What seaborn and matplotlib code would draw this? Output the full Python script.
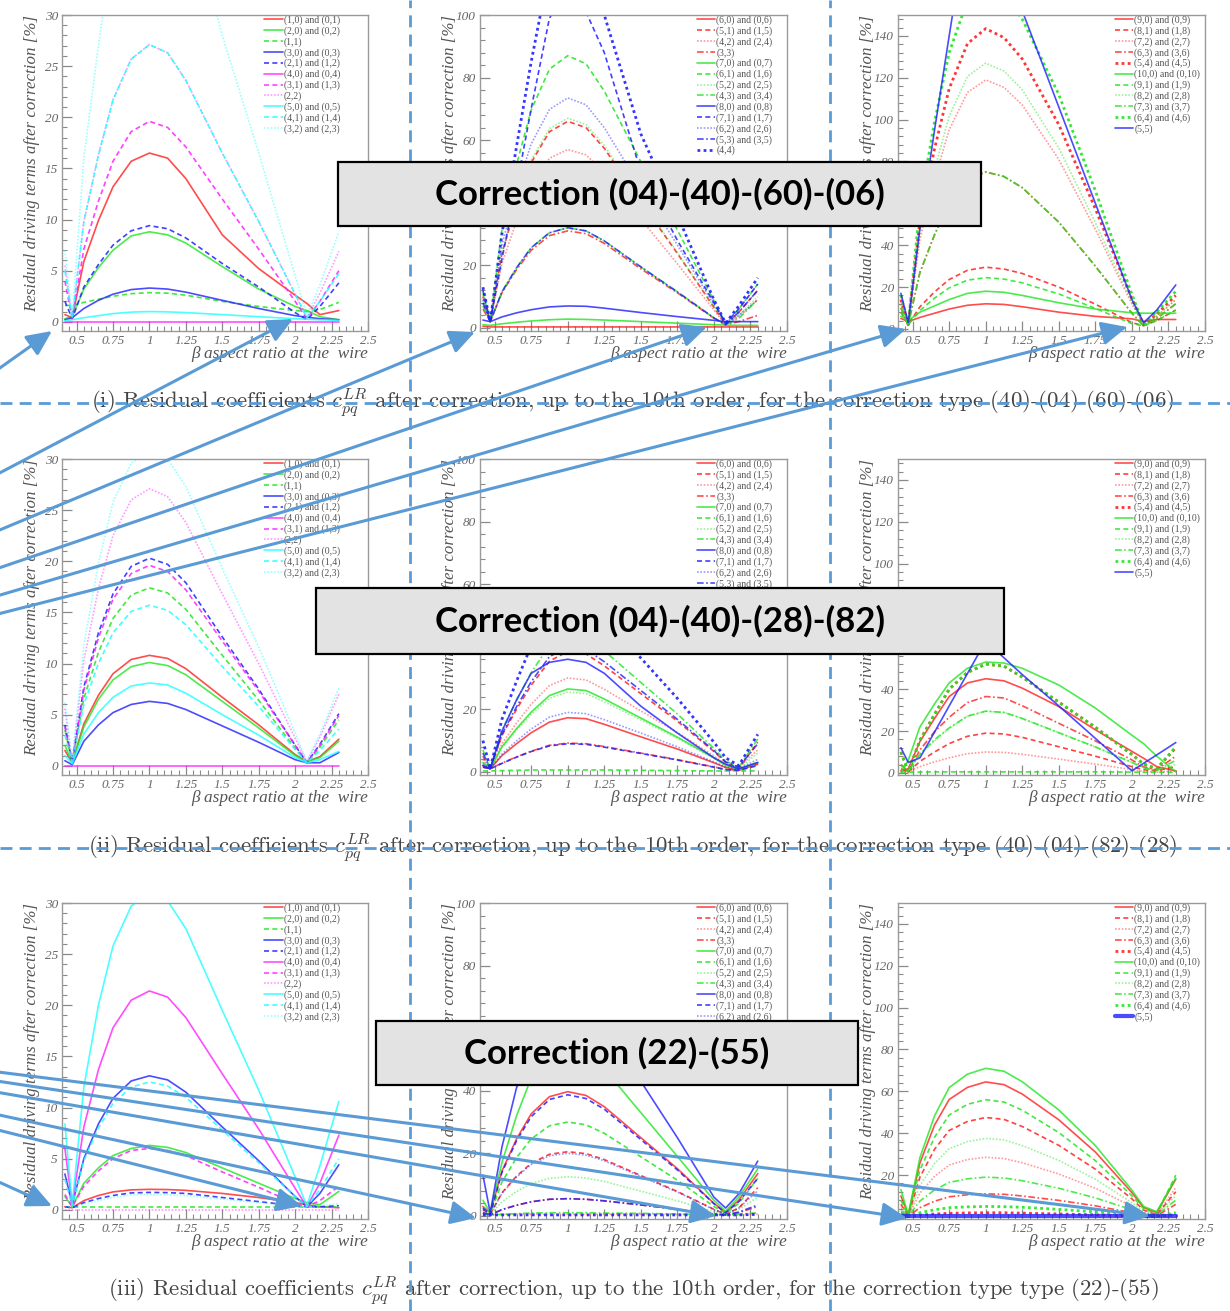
import matplotlib
matplotlib.use("Agg")
import matplotlib.pyplot as plt
import pandas as pd
import seaborn as sns
from matplotlib.lines import Line2D
from matplotlib.patches import FancyArrowPatch, Rectangle
from matplotlib.ticker import MultipleLocator, FixedLocator

# ---------------------------------------------------------------- data
BETA = [0.42, 0.47, 0.55, 0.65, 0.75, 0.875, 1.0, 1.125, 1.25, 1.5, 1.75, 2.0, 2.08, 2.17, 2.3]

LABELS_LOW = ["(1,0) and (0,1)", "(2,0) and (0,2)", "(1,1)", "(3,0) and (0,3)",
              "(2,1) and (1,2)", "(4,0) and (0,4)", "(3,1) and (1,3)", "(2,2)",
              "(5,0) and (0,5)", "(4,1) and (1,4)", "(3,2) and (2,3)"]
LABELS_MID = ["(6,0) and (0,6)", "(5,1) and (1,5)", "(4,2) and (2,4)", "(3,3)",
              "(7,0) and (0,7)", "(6,1) and (1,6)", "(5,2) and (2,5)", "(4,3) and (3,4)",
              "(8,0) and (0,8)", "(7,1) and (1,7)", "(6,2) and (2,6)", "(5,3) and (3,5)",
              "(4,4)"]
LABELS_HIGH = ["(9,0) and (0,9)", "(8,1) and (1,8)", "(7,2) and (2,7)", "(6,3) and (3,6)",
               "(5,4) and (4,5)", "(10,0) and (0,10)", "(9,1) and (1,9)", "(8,2) and (2,8)",
               "(7,3) and (3,7)", "(6,4) and (4,6)", "(5,5)"]

# colour / line-style code per legend entry
STYLE_LOW = [("r", "S"), ("g", "S"), ("g", "D"), ("b", "S"), ("b", "D"), ("m", "S"),
             ("m", "D"), ("m", "L"), ("c", "S"), ("c", "D"), ("c", "L")]
STYLE_MID = [("r", "S"), ("r", "D"), ("r", "L"), ("r", "A"), ("g", "S"), ("g", "D"),
             ("g", "L"), ("g", "A"), ("b", "S"), ("b", "D"), ("b", "L"), ("b", "A"), ("b", "B")]
STYLE_HIGH = [("r", "S"), ("r", "D"), ("r", "L"), ("r", "A"), ("r", "B"), ("g", "S"),
              ("g", "D"), ("g", "L"), ("g", "A"), ("g", "B"), ("b", "S")]

# (i) correction (40)-(04)-(60)-(06)
I_LOW = [
    [0.7, 0.4, 5.9, 9.9, 13.2, 15.7, 16.5, 16.0, 14.0, 8.5, 5.2, 2.6, 1.8, 0.7, 1.1],
    [0.3, 0.5, 3.2, 5.3, 7.0, 8.4, 8.8, 8.5, 7.7, 5.4, 3.2, 1.5, 1.1, 0.5, 0.2],
    [1.6, 1.6, 1.9, 2.2, 2.5, 2.75, 2.85, 2.8, 2.6, 2.0, 1.5, 1.1, 1.0, 1.2, 1.9],
    [0.2, 0.4, 1.3, 2.1, 2.7, 3.15, 3.3, 3.2, 2.9, 2.1, 1.3, 0.6, 0.45, 0.3, 0.2],
    [2.0, 0.3, 3.4, 5.6, 7.5, 8.9, 9.4, 9.1, 8.2, 5.7, 3.4, 0.9, 0.2, 1.5, 3.8],
    [0, 0, 0, 0, 0, 0, 0, 0, 0, 0, 0, 0, 0, 0, 0],
    [4.0, 0.3, 7.1, 11.8, 15.7, 18.6, 19.6, 19.0, 17.1, 12.0, 7.1, 2.0, 0.3, 2.0, 5.0],
    [5.5, 0.3, 9.8, 16.3, 21.7, 25.7, 27.1, 26.3, 23.6, 16.5, 9.8, 2.7, 0.4, 2.8, 6.9],
    [0.1, 0.2, 0.4, 0.6, 0.8, 0.95, 1.0, 0.97, 0.9, 0.7, 0.5, 0.3, 0.25, 0.2, 0.15],
    [5.0, 0.3, 9.8, 16.3, 21.7, 25.7, 27.1, 26.3, 23.6, 16.5, 9.8, 2.7, 0.4, 2.0, 4.7],
    [7.0, 0.5, 16.0, 27.0, 37.0, 44.5, 47.0, 46.0, 41.5, 28.0, 16.5, 4.5, 0.6, 3.6, 8.8],
]
I_MID = [
    [0.5, 0.3, 0.3, 0.3, 0.3, 0.3, 0.3, 0.3, 0.3, 0.3, 0.3, 0.3, 0.3, 0.3, 0.3],
    [10, 2, 23.8, 39.6, 52.8, 62.7, 66, 64, 57.4, 40.3, 23.8, 6.6, 1.0, 5, 12],
    [8, 2, 20.5, 34.2, 45.6, 54.2, 57, 55.3, 49.6, 34.8, 20.5, 5.7, 1.0, 3.5, 9],
    [6, 2, 11.2, 18.6, 24.8, 29.5, 31, 30.1, 27, 18.9, 11.2, 3.1, 1.0, 2, 4],
    [1.0, 0.8, 1.3, 1.8, 2.2, 2.6, 2.8, 2.7, 2.5, 2.0, 1.5, 1.0, 0.9, 0.8, 0.8],
    [11, 2, 31.3, 52.2, 69.6, 82.7, 87, 84.4, 75.7, 53.1, 31.3, 8.7, 1.2, 6, 14],
    [9, 2, 24.1, 40.2, 53.6, 63.7, 67, 65, 58.3, 40.9, 24.1, 6.7, 1.0, 4, 10],
    [7, 2, 11.5, 19.2, 25.6, 30.4, 32, 31, 27.8, 19.5, 11.5, 3.2, 1.0, 3, 9],
    [2.5, 2.0, 3.5, 4.8, 5.8, 6.7, 7.0, 6.9, 6.3, 4.9, 3.6, 2.4, 2.0, 2.0, 2.0],
    [12, 2, 22, 45, 70, 99, 108, 101, 88, 50, 28, 8, 1.5, 6, 14],
    [9, 2, 26.5, 44, 58.8, 69.8, 73.5, 71.3, 64, 44.8, 26.5, 7.4, 1.2, 4, 9],
    [8, 2, 11.5, 19.2, 25.6, 30.4, 32, 31, 27.8, 19.5, 11.5, 3.2, 1.0, 5, 12],
    [13, 2, 30, 58, 85, 115, 130, 125, 100, 62, 36, 9, 1.5, 7, 16],
]
I_HIGH = [
    [5, 3.5, 5.5, 7.5, 9.5, 11.3, 12, 11.7, 10.6, 8, 6, 4.8, 3.5, 4.5, 4.5],
    [8, 2, 10.6, 17.7, 23.6, 28, 29.5, 28.6, 26.5, 20, 11.8, 3, 1.5, 4, 9],
    [12, 2, 42.8, 71.4, 95.2, 113, 119, 115.4, 107, 81, 47.6, 11.9, 2, 6, 14],
    [10, 2, 27, 45, 60, 71.3, 75, 72.8, 67.5, 51, 30, 7.5, 1.5, 5, 12],
    [14, 2, 51.7, 86.1, 114.8, 136.3, 143.5, 139.2, 129, 97.6, 57.4, 14.4, 2, 7, 16],
    [6, 4, 8, 11, 14, 17, 18, 17.5, 16, 12.5, 9.5, 7.7, 7.5, 7.5, 7.5],
    [8, 2, 8.8, 14.7, 19.6, 23.3, 24.5, 23.8, 22, 16.7, 9.8, 2.5, 1.5, 4, 9],
    [12, 2, 45.7, 76.2, 101.6, 120.7, 127, 123.2, 114.3, 86.4, 50.8, 12.7, 2, 6, 14],
    [10, 2, 27, 45, 60, 71.3, 75, 72.8, 67.5, 51, 30, 7.5, 1.5, 5, 12],
    [16, 2, 59, 99, 132, 157, 165, 160, 148, 112, 66, 16.5, 2, 8, 18],
    [17, 3, 48, 95, 140, 195, 215, 195, 152, 106, 60, 14, 3, 9, 21],
]

# (ii) correction (40)-(04)-(82)-(28)
II_LOW = [
    [1.5, 0.3, 4.1, 6.9, 9.0, 10.4, 10.8, 10.5, 9.5, 6.7, 4.0, 1.1, 0.4, 0.9, 2.6],
    [2.0, 0.3, 3.8, 6.5, 8.4, 9.7, 10.1, 9.8, 8.9, 6.3, 3.7, 1.0, 0.4, 0.8, 2.4],
    [3.5, 0.3, 6.6, 11.1, 14.4, 16.7, 17.4, 16.9, 15.3, 10.8, 6.4, 1.7, 0.3, 1.8, 4.5],
    [0.5, 0.1, 2.4, 4.0, 5.2, 6.0, 6.3, 6.1, 5.5, 3.9, 2.3, 0.6, 0.3, 0.3, 1.3],
    [4.0, 0.3, 7.7, 13.0, 16.8, 19.5, 20.3, 19.7, 17.9, 12.6, 7.5, 2.0, 0.3, 2.1, 5.1],
    [0, 0, 0, 0, 0, 0, 0, 0, 0, 0, 0, 0, 0, 0, 0],
    [3.8, 0.3, 7.4, 12.5, 16.3, 18.8, 19.6, 19.0, 17.2, 12.2, 7.3, 2.0, 0.3, 2.0, 4.9],
    [5.6, 0.3, 10.3, 17.3, 22.5, 26.0, 27.1, 26.3, 23.8, 16.8, 10.0, 2.7, 0.4, 2.8, 7.0],
    [1.0, 0.2, 3.1, 5.2, 6.7, 7.8, 8.1, 7.9, 7.1, 5.0, 3.0, 0.8, 0.3, 0.6, 1.4],
    [3.0, 0.3, 6.0, 10.0, 13.0, 15.1, 15.7, 15.2, 13.8, 9.7, 5.8, 1.6, 0.3, 1.5, 3.6],
    [6.2, 0.4, 11.8, 19.8, 25.8, 29.6, 30.8, 30.0, 27.3, 19.3, 11.6, 3.2, 0.4, 3.1, 7.6],
]
II_MID = [
    [2, 1, 5.2, 9.0, 12.5, 15.9, 17.3, 17.0, 15.2, 11.2, 7.3, 2.9, 1.4, 0.5, 2.5],
    [5, 1, 11.6, 20, 27.7, 35.4, 38.5, 37.7, 33.9, 25, 16.2, 6.5, 3.1, 1.0, 9.5],
    [4, 1, 9, 15.6, 21.6, 27.6, 30, 29.4, 26.4, 19.5, 12.6, 5.1, 2.4, 1.5, 7],
    [1.5, 1, 2.8, 4.8, 6.6, 8.5, 9.2, 9.0, 8.1, 6.0, 3.9, 1.6, 0.8, 0.5, 2.5],
    [3, 1, 8, 13.8, 19.1, 24.4, 26.5, 26, 23.3, 17.2, 11.1, 4.5, 2.1, 0.8, 3],
    [0.3, 0.3, 0.4, 0.5, 0.6, 0.6, 0.6, 0.6, 0.6, 0.5, 0.4, 0.3, 0.3, 0.3, 0.3],
    [3, 1, 7.7, 13.3, 18.4, 23.5, 25.5, 25, 22.4, 16.6, 10.7, 4.3, 2, 1, 6],
    [7, 1, 13.2, 22.9, 31.7, 40.5, 44, 43.1, 38.7, 28.6, 18.5, 7.5, 3.5, 1.5, 10.5],
    [2, 1, 13, 23, 31.5, 35, 36, 35, 31.5, 21, 12.4, 4.5, 2.5, 1, 3],
    [1.5, 1, 2.7, 4.7, 6.5, 8.3, 9, 8.8, 7.9, 5.9, 3.8, 1.5, 0.7, 0.5, 2],
    [2.5, 1, 5.7, 9.9, 13.7, 17.5, 19, 18.6, 16.7, 12.4, 8, 3.2, 1.5, 1, 4],
    [6, 1, 12, 20.8, 28.8, 36.8, 40, 39.2, 35.2, 26, 16.8, 6.8, 3.2, 1.5, 9],
    [10, 1, 16.8, 29, 40.3, 51.5, 56, 54.9, 49.3, 36.4, 23.5, 9.5, 4.5, 2, 12],
]
II_HIGH = [
    [1, 2, 15, 26, 36.5, 43, 45, 44, 40.5, 31.7, 20.6, 10.3, 7, 3, 1],
    [2, 0.5, 5.5, 10, 14, 17.5, 19, 18.6, 17, 12.5, 8, 3, 1.5, 1, 3],
    [0.5, 0.5, 3, 5.3, 7.2, 9.2, 10, 9.8, 8.9, 6.6, 4.2, 1.6, 0.7, 0.3, 1],
    [4, 0.5, 11, 19.7, 26.6, 33.6, 36.5, 35.8, 32.1, 23.7, 15.3, 6.2, 2.9, 1.5, 8],
    [10, 0.5, 15.6, 28, 40, 48, 52, 51, 45.8, 33.8, 21.8, 8.8, 4.2, 2, 12],
    [0, 6, 22, 33, 43, 50, 53, 52.5, 50, 42, 31, 18, 14, 8, 0.5],
    [0.5, 0.3, 0.4, 0.5, 0.5, 0.5, 0.5, 0.5, 0.5, 0.5, 0.5, 0.4, 0.3, 0.3, 0.3],
    [3, 0.5, 8.9, 15.3, 21.2, 27.1, 29.5, 28.9, 26, 19.2, 12.4, 5, 2.4, 1, 4],
    [4, 0.5, 8.9, 15.9, 21.5, 27.1, 29.5, 28.9, 26, 19.2, 12.4, 5, 2.4, 1.2, 6],
    [10, 0.5, 15.6, 28, 40, 48, 52, 51, 45.8, 33.8, 21.8, 8.8, 4.2, 2, 12.5],
    [12, 5, 7.2, 19.5, 32, 47.5, 63, 55, 47, 32, 16.5, 1, 4.6, 8.6, 14.5],
]

# (iii) correction (22)-(55)
III_LOW = [
    [0.3, 0.2, 0.9, 1.4, 1.75, 1.95, 2.0, 1.98, 1.9, 1.6, 1.2, 0.7, 0.5, 0.3, 0.2],
    [1.3, 0.3, 2.6, 4.1, 5.3, 6.0, 6.3, 6.1, 5.6, 4.1, 2.6, 1.1, 0.7, 0.5, 1.8],
    [0.3, 0.3, 0.3, 0.3, 0.3, 0.3, 0.3, 0.3, 0.3, 0.3, 0.3, 0.3, 0.3, 0.3, 0.3],
    [3.5, 0.5, 5.0, 8.4, 10.9, 12.6, 13.1, 12.7, 11.5, 8.1, 4.8, 1.3, 0.3, 1.6, 4.4],
    [0.3, 0.2, 0.7, 1.1, 1.4, 1.65, 1.7, 1.68, 1.6, 1.2, 0.8, 0.4, 0.3, 0.3, 0.4],
    [6.0, 0.5, 8.1, 13.7, 17.8, 20.5, 21.4, 20.8, 18.8, 13.3, 7.9, 2.1, 0.3, 2.6, 7.3],
    [1.5, 0.3, 2.3, 3.8, 5.0, 5.8, 6.0, 5.8, 5.3, 3.7, 2.2, 0.6, 0.3, 0.9, 2.3],
    [0, 0, 0, 0, 0, 0, 0, 0, 0, 0, 0, 0, 0, 0, 0],
    [8.4, 0.5, 12.0, 20.0, 25.8, 29.7, 31.0, 30.2, 27.5, 19.5, 11.7, 3.2, 0.4, 4.3, 10.6],
    [3.0, 0.4, 4.8, 8.0, 10.4, 12.0, 12.5, 12.1, 11.0, 7.8, 4.6, 1.3, 0.3, 2.0, 5.0],
    [0.3, 0.2, 0.6, 0.9, 1.2, 1.45, 1.5, 1.48, 1.4, 1.05, 0.7, 0.35, 0.3, 0.4, 0.6],
]
III_MID = [
    [3, 1, 14.3, 24.6, 32.6, 38.1, 39.7, 38.5, 34.9, 25, 15.1, 4, 1, 5, 13.5],
    [2, 0.5, 7.4, 12.7, 16.8, 19.7, 20.5, 19.9, 18, 12.9, 7.8, 2.1, 0.5, 2.5, 9],
    [0.5, 0.3, 0.4, 0.5, 0.5, 0.5, 0.5, 0.5, 0.5, 0.5, 0.4, 0.3, 0.3, 0.3, 0.5],
    [1, 0.3, 2, 3.4, 4.5, 5.3, 5.5, 5.3, 4.8, 3.5, 2.1, 0.6, 0.3, 1, 3],
    [5, 1, 17, 32, 44, 50.5, 52, 51, 47, 33, 19, 5, 1.5, 6, 15],
    [3, 0.5, 10.8, 18.6, 24.6, 28.8, 30, 29.1, 26.4, 18.9, 11.4, 3, 0.8, 4, 12],
    [1.5, 0.5, 4.5, 7.8, 10.3, 12, 12.5, 12.1, 11, 7.9, 4.8, 1.3, 0.5, 2, 6],
    [0.5, 0.3, 0.5, 0.7, 0.9, 1, 1, 1, 0.9, 0.8, 0.6, 0.4, 0.3, 0.5, 1],
    [13, 1, 22, 41, 52, 58, 60, 59, 56, 43, 25, 6, 2.5, 7, 17.5],
    [2.5, 0.5, 13.9, 24, 31.7, 37.2, 38.7, 37.5, 34.1, 24.4, 14.7, 3.9, 1, 4.5, 12],
    [2, 0.5, 7.2, 12.4, 16.4, 19.2, 20, 19.4, 17.6, 12.6, 7.6, 2, 0.5, 2.5, 8],
    [1, 0.3, 2, 3.4, 4.5, 5.3, 5.5, 5.3, 4.8, 3.5, 2.1, 0.6, 0.3, 1.2, 3.5],
    [0.3, 0.3, 0.3, 0.3, 0.3, 0.3, 0.3, 0.3, 0.3, 0.3, 0.3, 0.3, 0.3, 0.3, 0.5],
]
III_HIGH = [
    [10, 1, 25.8, 43.9, 56.1, 61.9, 64.5, 63.2, 58.7, 46.4, 31, 11.6, 4.5, 2, 18],
    [6, 0.5, 19, 32.3, 41.3, 45.6, 47.5, 46.6, 43.2, 34.2, 22.8, 8.6, 3.3, 1, 12],
    [4, 0.5, 11.4, 19.4, 24.8, 27.4, 28.5, 27.9, 25.9, 20.5, 13.7, 5.1, 2, 1, 14],
    [2, 0.3, 4.4, 7.5, 9.6, 10.6, 11, 10.8, 10, 7.9, 5.3, 2, 0.8, 0.5, 6],
    [0.5, 0.2, 0.8, 1.4, 1.7, 1.9, 2, 2, 1.8, 1.4, 1, 0.4, 0.2, 0.2, 1],
    [13, 1, 28.4, 48.3, 61.8, 68.2, 71, 69.6, 64.6, 51.1, 34.1, 12.8, 5, 2.5, 18.5],
    [8, 0.5, 22.4, 38.1, 48.7, 53.8, 56, 54.9, 51, 40.3, 26.9, 10.1, 3.9, 1.5, 20],
    [5, 0.5, 15, 25.5, 32.6, 36, 37.5, 36.8, 34.1, 27, 18, 6.8, 2.6, 1, 10],
    [3, 0.3, 7.6, 12.9, 16.5, 18.2, 19, 18.6, 17.3, 13.7, 9.1, 3.4, 1.3, 0.8, 8],
    [1, 0.2, 2, 3.4, 4.4, 4.8, 5, 4.9, 4.6, 3.6, 2.4, 0.9, 0.4, 0.3, 2],
    [0.5, 0.5, 0.5, 0.5, 0.5, 0.5, 0.5, 0.5, 0.5, 0.5, 0.5, 0.5, 0.5, 0.5, 0.5],
]

X_TICKS = [0.5, 0.75, 1.0, 1.25, 1.5, 1.75, 2.0, 2.25, 2.5]
X_TICKLABELS = ["0.5", "0.75", "1", "1.25", "1.5", "1.75", "2", "2.25", "2.5"]

CAPTIONS = [
    r"(i) Residual coefficients $c^{LR}_{pq}$ after correction, up to the 10th order, for the correction type (40)-(04)-(60)-(06)",
    r"(ii) Residual coefficients $c^{LR}_{pq}$ after correction, up to the 10th order, for the correction type (40)-(04)-(82)-(28)",
    r"(iii) Residual coefficients $c^{LR}_{pq}$ after correction, up to the 10th order, for the correction type type (22)-(55)",
]
BOX_TEXTS = ["Correction (04)-(40)-(60)-(06)", "Correction (04)-(40)-(28)-(82)", "Correction (22)-(55)"]

# ---------------------------------------------------------------- style
sns.set_theme(style="white")
plt.rcParams["font.family"] = ["Liberation Serif", "DejaVu Serif"]
plt.rcParams["mathtext.fontset"] = "cm"

W, H = 1230, 1311
COLORS = {"r": "#ff1f1f", "g": "#1fe61f", "b": "#1f1fff", "m": "#ff1fff", "c": "#1fffff"}
LSTYLES = {
    "S": dict(ls="-", lw=1.2, alpha=0.8),
    "D": dict(ls=(0, (3, 2)), lw=1.2, alpha=0.85),
    "L": dict(ls=(0, (1, 1)), lw=1.2, alpha=0.45),
    "A": dict(ls=(0, (4, 1.5, 1, 1.5)), lw=1.2, alpha=0.8),
    "B": dict(ls=(0, (1, 1.2)), lw=2.0, alpha=0.9),
}
GRAY_TXT = "#666666"
ACCENT = "#5b9bd5"

COL_X = [(62, 368), (480, 787), (898, 1205)]
ROW_Y = [(15, 331), (459, 775), (903, 1219)]
YLIMS = [(-0.9, 30), (-1.0, 100), (-1.0, 150)]
YMAJOR = [[0, 5, 10, 15, 20, 25, 30], [0, 20, 40, 60, 80, 100], [0, 20, 40, 60, 80, 100, 120, 140]]
YMINOR = [1, 4, 4]
LEG_X = [0.655, 0.70, 0.70]

fig = plt.figure(figsize=(W / 100, H / 100), dpi=100)


def fx(x):
    return x / W


def fy(y):
    return 1 - y / H


def draw_panel(ax, labels, styles, values, col):
    handles = []
    for lab, (c, s), vals in zip(labels, styles, values):
        st = LSTYLES[s]
        lw = st["lw"]
        if c == "b" and s == "S" and max(vals) < 1:
            lw = 3.0
        df = pd.DataFrame({"beta": BETA, "value": vals})
        sns.lineplot(data=df, x="beta", y="value", ax=ax, color=COLORS[c],
                     linewidth=lw, alpha=st["alpha"], legend=False, errorbar=None)
        ax.lines[-1].set_linestyle(st["ls"])
        handles.append(Line2D([], [], color=COLORS[c], lw=lw, alpha=st["alpha"], ls=st["ls"]))

    ax.set_xlim(0.4, 2.5)
    ax.set_ylim(*YLIMS[col])
    ax.xaxis.set_major_locator(FixedLocator(X_TICKS))
    ax.set_xticklabels(X_TICKLABELS)
    ax.xaxis.set_minor_locator(MultipleLocator(0.05))
    ax.yaxis.set_major_locator(FixedLocator(YMAJOR[col]))
    ax.set_yticklabels([str(v) for v in YMAJOR[col]])
    ax.yaxis.set_minor_locator(MultipleLocator(YMINOR[col]))
    ax.tick_params(which="both", direction="in", top=False, right=False,
                   bottom=True, left=True, color="#8a8a8a", labelcolor=GRAY_TXT,
                   labelsize=9.5, pad=3)
    ax.tick_params(which="major", length=7, width=0.9)
    ax.tick_params(which="minor", length=3.5, width=0.8)
    for lab in ax.get_xticklabels() + ax.get_yticklabels():
        lab.set_fontstyle("italic")
    for sp in ax.spines.values():
        sp.set_color("#9a9a9a")
        sp.set_linewidth(1.0)
    ax.set_xlabel("")
    ax.set_ylabel("")
    ax.text(-0.098, 1.0, "Residual driving terms after correction [%]", transform=ax.transAxes,
            rotation=90, ha="center", va="top", fontsize=12.2, style="italic", color="#555555")
    ax.text(1.0, -0.074, "β aspect ratio at the  wire", transform=ax.transAxes,
            ha="right", va="center", fontsize=12.4, style="italic", color="#555555")
    ax.legend(handles, labels, loc="upper left", bbox_to_anchor=(LEG_X[col], 1.005),
              frameon=False, prop={"size": 7}, labelcolor="#555555", handlelength=1.9,
              handletextpad=0.1, labelspacing=0.13, borderpad=0.2, borderaxespad=0)


PANELS = [
    [(LABELS_LOW, STYLE_LOW, I_LOW), (LABELS_MID, STYLE_MID, I_MID), (LABELS_HIGH, STYLE_HIGH, I_HIGH)],
    [(LABELS_LOW, STYLE_LOW, II_LOW), (LABELS_MID, STYLE_MID, II_MID), (LABELS_HIGH, STYLE_HIGH, II_HIGH)],
    [(LABELS_LOW, STYLE_LOW, III_LOW), (LABELS_MID, STYLE_MID, III_MID), (LABELS_HIGH, STYLE_HIGH, III_HIGH)],
]

for r, (y0, y1) in enumerate(ROW_Y):
    for c, (x0, x1) in enumerate(COL_X):
        ax = fig.add_axes([fx(x0), fy(y1), (x1 - x0) / W, (y1 - y0) / H])
        labels, styles, values = PANELS[r][c]
        draw_panel(ax, labels, styles, values, c)

# captions under each row
for y, cap in zip([403, 848, 1291], CAPTIONS):
    fig.text(fx(633), fy(y), cap, ha="center", va="center", fontsize=16.4,
             family="cmr10", color="#444444", zorder=2)

# dashed separators
for x in (410, 830):
    fig.add_artist(Line2D([fx(x), fx(x)], [0, 1], transform=fig.transFigure, color=ACCENT,
                          lw=2.0, ls=(0, (4.3, 2.6)), zorder=3))
for y in (403, 848):
    fig.add_artist(Line2D([0, 1], [fy(y), fy(y)], transform=fig.transFigure, color=ACCENT,
                          lw=2.0, ls=(0, (4.3, 2.6)), zorder=3))

# arrows pointing at the two minima of every panel
ARROWS = [
    ((-10, 375), (52, 331)), ((-10, 478), (293, 319)), ((-10, 534), (475, 332)),
    ((-10, 571), (707, 327)), ((-10, 598), (906, 329)), ((-10, 616), (1127, 327)),
    ((-10, 1071), (1150, 1216)), ((-10, 1080), (907, 1218)), ((-10, 1091), (716, 1216)),
    ((-10, 1113), (476, 1218)), ((-10, 1128), (302, 1206)), ((-10, 1178), (52, 1206)),
]
for (xa, ya), (xb, yb) in ARROWS:
    arr = FancyArrowPatch((fx(xa), fy(ya)), (fx(xb), fy(yb)), transform=fig.transFigure,
                          arrowstyle="-|>,head_length=0.9,head_width=0.42", mutation_scale=17,
                          color=ACCENT, lw=2.2, shrinkA=0, shrinkB=0, zorder=4)
    fig.add_artist(arr)

# labelled boxes
BOXES = [(338, 162, 981, 226), (316, 588, 1004, 654), (376, 1021, 858, 1085)]
for (x0, y0, x1, y1), txt in zip(BOXES, BOX_TEXTS):
    fig.add_artist(Rectangle((fx(x0), fy(y1)), (x1 - x0) / W, (y1 - y0) / H,
                             transform=fig.transFigure, facecolor="#e3e3e3",
                             edgecolor="black", lw=1.6, zorder=5))
    fig.text(fx((x0 + x1) / 2), fy((y0 + y1) / 2), txt, ha="center", va="center",
             fontsize=25, fontweight="bold", family="Lato", color="black", zorder=6)

fig.savefig("out.png", dpi=100)
